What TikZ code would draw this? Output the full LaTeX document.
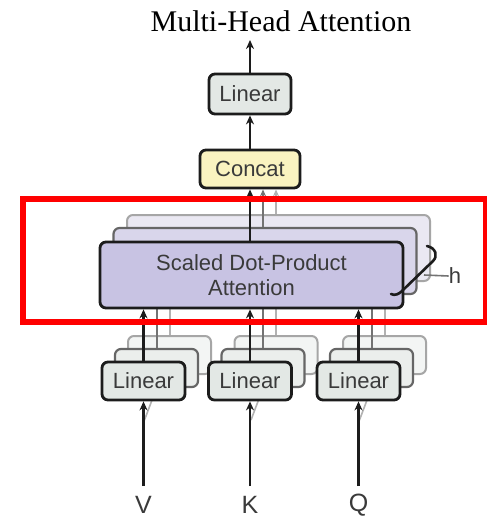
\documentclass[tikz,border=0pt]{standalone}
\usepackage{fontspec}
\setmainfont{Liberation Serif}
\newfontfamily\helv{Liberation Sans}
\usetikzlibrary{arrows.meta}

\definecolor{ink}{HTML}{1C1C1C}
\definecolor{txt}{HTML}{3A3A3A}
\definecolor{linfill}{HTML}{E3E8E5}
\definecolor{catfill}{HTML}{FAF3C0}
\definecolor{attfill}{HTML}{C8C3E3}
\definecolor{attfillB}{HTML}{D9D6EB}
\definecolor{attfillC}{HTML}{EAE8F2}
\definecolor{linfillB}{HTML}{EBEEEC}
\definecolor{linfillC}{HTML}{F3F5F4}
\definecolor{hilite}{HTML}{FF0000}

\tikzset{
  box/.style={draw=ink, line width=2.8pt, rounded corners=6pt, inner sep=0pt,
              text=txt, font=\helv\fontsize{22}{25}\selectfont, align=center},
  linbox/.style={box, fill=linfill, minimum width=83pt, minimum height=38pt},
  linboxB/.style={linbox, draw=black!60, fill=linfillB, line width=2.2pt},
  linboxC/.style={linbox, draw=black!35, fill=linfillC, line width=2pt},
  catbox/.style={box, fill=catfill, minimum width=100pt, minimum height=38pt},
  attbox/.style={box, fill=attfill, minimum width=303pt, minimum height=66pt},
  attboxB/.style={attbox, draw=black!60, fill=attfillB, line width=2.2pt},
  attboxC/.style={attbox, draw=black!35, fill=attfillC, line width=2pt},
  flow/.style={draw=ink, line width=2.6pt, -{Stealth[length=9pt,width=8pt]}},
  flowB/.style={draw=black!55, line width=2pt, -{Stealth[length=7pt,width=6pt]}},
  flowC/.style={draw=black!30, line width=2pt, -{Stealth[length=7pt,width=6pt]}},
  inlabel/.style={text=txt, font=\helv\fontsize{25}{28}\selectfont, inner sep=0pt},
}

\begin{document}
\begin{tikzpicture}[x=1pt, y=-1pt]
  \useasboundingbox (0,0) rectangle (487,520);
  \fill[white] (0,0) rectangle (487,520);

  % title
  \node[font=\fontsize{30}{32}\selectfont, inner sep=0pt] (title) at (281,21) {Multi-Head Attention};
  \coordinate (out) at (250,40);

  % stacked attention heads (back to front)
  \node[attboxC] (sdpa3) at (278.5,248) {};
  \node[attboxB] (sdpa2) at (265,261) {};

  % stacked linear projections, back copies
  \foreach \n/\x in {V/143.5, K/250, Q/358.5}{
    \node[linboxC] (lin\n3) at (\x+26,355) {};
    \node[linboxB] (lin\n2) at (\x+13,368) {};
  }

  % input arrows and copy arrows (drawn beneath the front boxes)
  \foreach \n/\x in {V/143.5, K/250, Q/358.5}{
    \coordinate (in\n) at (\x,486);
    \coordinate (in\n b) at (\x+1,420);
    \draw[black!30, line width=1.6pt] (in\n b) -- (lin\n2.south);
    \draw[flowC] (lin\n3.north) -- (sdpa3.south -| lin\n3.north);
    \draw[flowB] (lin\n2.north) -- (sdpa2.south -| lin\n2.north);
  }

  % front linear projections
  \foreach \n/\x in {V/143.5, K/250, Q/358.5}{
    \node[linbox] (lin\n) at (\x,381) {Linear};
  }

  % front attention head
  \node[attbox] (sdpa) at (251.5,275) {Scaled Dot-Product\\Attention};

  % concat and final linear
  \node[catbox] (concat) at (250,169) {Concat};
  \node[linbox, minimum width=82pt, minimum height=40pt] (lintop) at (250,94) {Linear};

  % connectors
  \draw[flowC] (sdpa3.north -| 276,0) -- (concat.south -| 276,0);
  \draw[flowB] (sdpa2.north -| 263,0) -- (concat.south -| 263,0);
  \draw[flow] (sdpa.north -| concat.south) -- (concat.south);
  \draw[flow] (concat) -- (lintop);
  \draw[flow] (lintop.north) -- (out);
  \foreach \n in {V,K,Q}{
    \draw[flow] (lin\n.north) -- (sdpa.south -| lin\n.north);
    \draw[flow] (in\n) -- (lin\n.south);
  }

  % input labels
  \node[inlabel] (V) at (143.5,505) {V};
  \node[inlabel] (K) at (250,505) {K};
  \node[inlabel] (Q) at (358.5,505) {Q};

  % head-count brace and label
  \draw[ink, line width=2.6pt, line cap=round]
    (427,246) .. controls (436,248) and (438,256) .. (433,261)
    -- (402,291) .. controls (399,294) and (395,296) .. (391,294);
  \coordinate (hmid) at (424,275);
  \node[inlabel, font=\helv\fontsize{22}{24}\selectfont] (h) at (455,276) {h};
  \draw[black!55, line width=1.6pt] (hmid) -- (h.west);

  % highlight frame
  \draw[hilite, line width=6pt] (23,199) rectangle (486,322);
\end{tikzpicture}
\end{document}
